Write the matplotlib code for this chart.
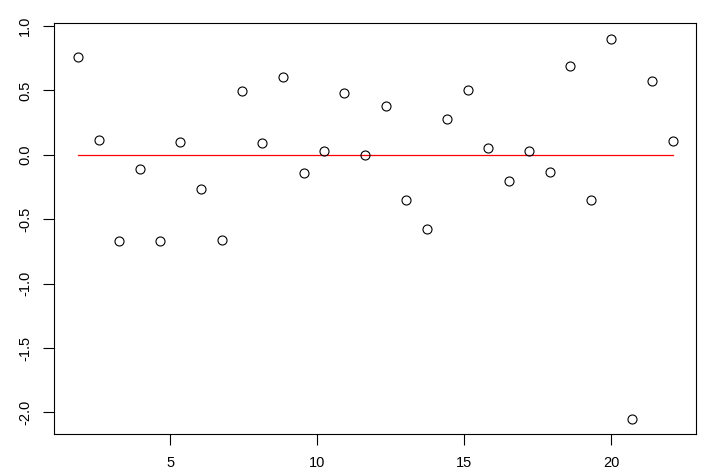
import matplotlib
matplotlib.use("Agg")
import matplotlib.pyplot as plt

x = [1.87, 2.57, 3.27, 3.96, 4.66, 5.35, 6.05, 6.75, 7.45, 8.14,
     8.84, 9.54, 10.24, 10.93, 11.63, 12.33, 13.03, 13.72, 14.42, 15.12,
     15.82, 16.51, 17.20, 17.91, 18.60, 19.30, 20.00, 20.70, 21.39, 22.09]
y = [0.762, 0.116, -0.672, -0.109, -0.672, 0.101, -0.264, -0.664, 0.491, 0.088,
     0.607, -0.140, 0.026, 0.483, -0.005, 0.380, -0.349, -0.574, 0.279, 0.499,
     0.049, -0.202, 0.026, -0.132, 0.690, -0.349, 0.902, -2.047, 0.576, 0.103]
ref_y = [0.0, 0.0]
x_ticks = [5, 10, 15, 20]
y_ticks = [-2.0, -1.5, -1.0, -0.5, 0.0, 0.5, 1.0]

plt.rcParams['font.family'] = ['Liberation Sans', 'DejaVu Sans']

fig = plt.figure(figsize=(7.07, 4.72), dpi=100)
ax = fig.add_axes([0.0768, 0.0811, 0.985 - 0.0768, 0.9506 - 0.0811])

ax.plot([x[0], x[-1]], ref_y, color='red', lw=0.9, zorder=1)
ax.plot(x, y, linestyle='none', marker='o', markersize=6.5, markerfacecolor='none',
        markeredgecolor='black', markeredgewidth=0.8, zorder=2)

xr = x[-1] - x[0]
yr = max(y) - min(y)
ax.set_xlim(x[0] - 0.04 * xr, x[-1] + 0.04 * xr)
ax.set_ylim(min(y) - 0.04 * yr, max(y) + 0.04 * yr)

ax.set_xticks(x_ticks)
ax.set_xticklabels([str(t) for t in x_ticks])
ax.set_yticks(y_ticks)
ax.set_yticklabels([f"{t:.1f}".replace('-', '-') for t in y_ticks], rotation=90, va='center')

ax.tick_params(axis='both', direction='out', length=8, width=0.8, labelsize=10.5, colors='black')
ax.tick_params(axis='x', pad=8)
ax.tick_params(axis='y', pad=8)
for s in ax.spines.values():
    s.set_linewidth(0.8)
    s.set_color('black')

fig.savefig('out.png', dpi=100)
